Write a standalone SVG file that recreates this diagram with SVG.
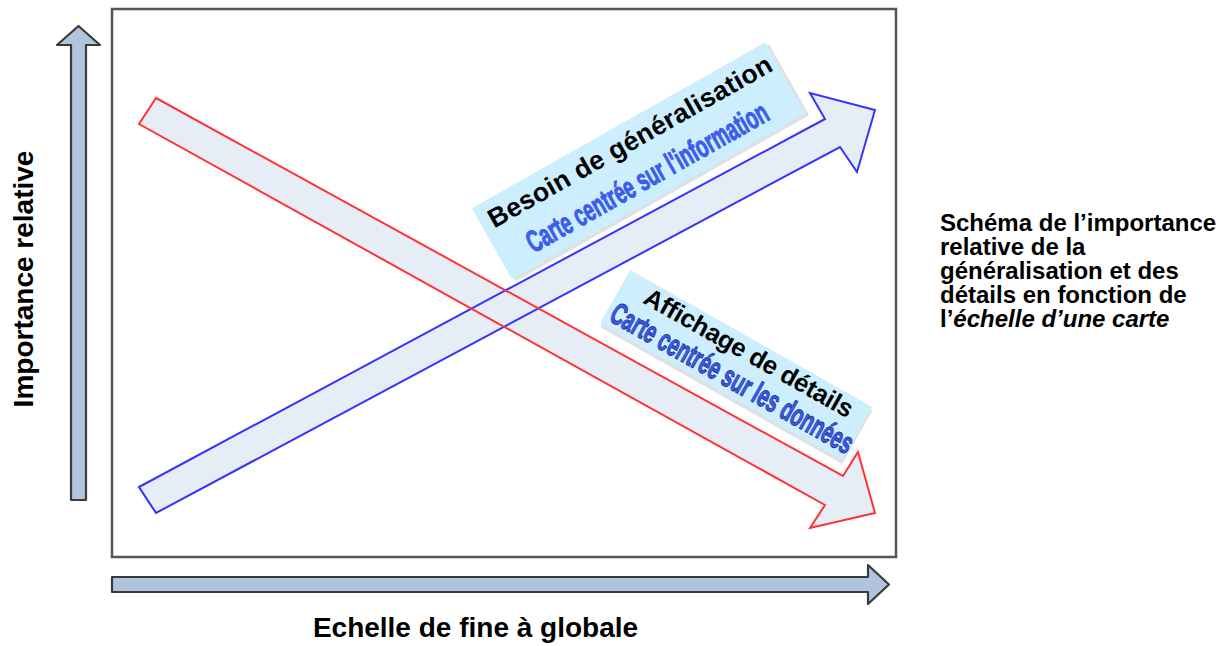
<svg xmlns="http://www.w3.org/2000/svg" width="1230" height="646" viewBox="0 0 1230 646">
  <style>
    .axis { fill: #b0c4de; stroke: #3a3a3a; stroke-width: 2.2; stroke-linejoin: round; }
    .afill { fill: #e7edf7; stroke: none; }
    .lbl { font-family: "Liberation Sans", Arial, sans-serif; font-weight: bold; fill: #000; }
    .hand { font-family: "Liberation Sans Narrow", "Liberation Sans", Arial, sans-serif; font-weight: bold; fill: #3b5cec; stroke-linejoin: round; }
    .box { fill: #cdeefd; }
    .shadow { fill: #dde1e8; }
  </style>
  <rect x="0" y="0" width="1230" height="646" fill="#ffffff"/>

  <g id="frame">
    <rect x="112" y="9" width="784" height="548" fill="#ffffff" stroke="#555555" stroke-width="2.5"/>
  </g>

  <g id="axis-y">
    <polygon class="axis" points="71,500 71,45 57,45 78.5,26 100,45 86,45 86,500"/>
  </g>
  <g id="axis-x">
    <polygon class="axis" points="112,577 868,577 868,565 889,584.5 868,604 868,592 112,592"/>
  </g>

  <g id="connectors">
    <polygon class="afill" points="139,487 825,119 810,93 875,110 857,172 840,147 156,513"/>
    <polygon class="afill" points="156,98 843,476 858,452 875,513 810,528 825,505 139,124"/>
    <polygon fill="none" stroke="#3333ff" stroke-width="2" stroke-linejoin="miter" points="139,487 825,119 810,93 875,110 857,172 840,147 156,513"/>
    <polygon fill="none" stroke="#ff3333" stroke-width="2" stroke-linejoin="miter" points="156,98 843,476 858,452 875,513 810,528 825,505 139,124"/>
  </g>

  <g id="label-generalisation" transform="translate(638.5,160.75) rotate(-29.5)">
    <rect class="shadow" x="-166" y="-37" width="337" height="81.5"/>
    <rect class="box" x="-168.5" y="-40.75" width="337" height="81.5"/>
    <text class="lbl" x="-159" y="-12" font-size="26.5" textLength="322" lengthAdjust="spacing">Besoin de généralisation</text>
    <text class="hand" x="-137" y="29" font-size="31" textLength="273" lengthAdjust="spacingAndGlyphs" stroke="#3b5cec" stroke-width="1">Carte centrée sur l'information</text>
  </g>

  <g id="label-details" transform="translate(736.25,365) rotate(29.5)">
    <rect class="shadow" x="-137" y="-27" width="278" height="61"/>
    <rect class="box" x="-139" y="-30.5" width="278" height="61"/>
    <text class="lbl" x="-113" y="-8" font-size="25.5" textLength="236" lengthAdjust="spacing">Affichage de détails</text>
    <text class="hand" x="-134" y="24" font-size="31" textLength="274" lengthAdjust="spacingAndGlyphs" stroke="#22349a" stroke-width="1">Carte centrée sur les données</text>
  </g>

  <g id="label-y">
    <text class="lbl" font-size="28" text-anchor="middle" transform="translate(33,279) rotate(-90)">Importance relative</text>
  </g>
  <g id="label-x">
    <text class="lbl" x="475.5" y="637" font-size="28" text-anchor="middle">Echelle de fine à globale</text>
  </g>

  <g id="caption">
    <text class="lbl" font-size="24">
      <tspan x="940" y="231">Schéma de l’importance</tspan>
      <tspan x="940" y="255">relative de la</tspan>
      <tspan x="940" y="279">généralisation et des</tspan>
      <tspan x="940" y="303">détails en fonction de</tspan>
      <tspan x="940" y="327">l’<tspan font-style="italic">échelle d’une carte</tspan></tspan>
    </text>
  </g>
</svg>
